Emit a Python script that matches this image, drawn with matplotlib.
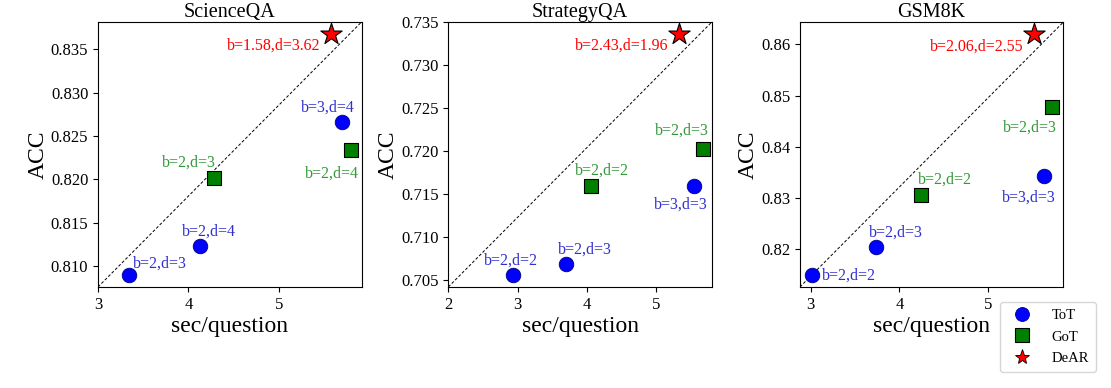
import matplotlib
matplotlib.use("Agg")
import matplotlib.pyplot as plt
from matplotlib.lines import Line2D

plt.rcParams['font.family'] = ['Liberation Serif', 'DejaVu Serif']

datasets = ["ScienceQA", "StrategyQA", "GSM8K"]

# ToT results: sec/question, accuracy, config label
tot_x = [[3.339, 4.125, 5.701], [2.934, 3.691, 5.546], [3.015, 3.738, 5.622]]
tot_y = [[0.8089, 0.8123, 0.8266], [0.7055, 0.7068, 0.7159], [0.8148, 0.8203, 0.8342]]
tot_lab = [["b=2,d=3", "b=2,d=4", "b=3,d=4"],
           ["b=2,d=2", "b=2,d=3", "b=3,d=3"],
           ["b=2,d=2", "b=2,d=3", "b=3,d=3"]]

# GoT results
got_x = [[4.284, 5.797], [4.060, 5.666], [4.247, 5.715]]
got_y = [[0.8201, 0.8234], [0.7159, 0.7202], [0.8305, 0.8477]]
got_lab = [["b=2,d=3", "b=2,d=4"],
           ["b=2,d=2", "b=2,d=3"],
           ["b=2,d=2", "b=2,d=3"]]

# DeAR results
dear_x = [5.572, 5.330, 5.513]
dear_y = [0.8368, 0.7336, 0.8620]
dear_lab = ["b=1.58,d=3.62", "b=2.43,d=1.96", "b=2.06,d=2.55"]

# axis ranges and ticks
xlims = [(3.0, 5.915), (2.0, 5.80), (2.88, 5.846)]
ylims = [(0.80757, 0.83816), (0.70414, 0.735), (0.81255, 0.86438)]
xticks = [[3, 4, 5], [2, 3, 4, 5], [3, 4, 5]]
yticks = [[0.810, 0.815, 0.820, 0.825, 0.830, 0.835],
          [0.705, 0.710, 0.715, 0.720, 0.725, 0.730, 0.735],
          [0.82, 0.83, 0.84, 0.85, 0.86]]
yfmt = ["%.3f", "%.3f", "%.2f"]

# label offsets (pixels) and horizontal alignment
tot_off = [[(31, 8), (9, 10), (-14, 11)],
           [(-2, 11), (19, 11), (-13, -23)],
           [(10, -4), (20, 11), (-15, -25)]]
tot_ha = [["center"] * 3, ["center"] * 3, ["left", "center", "center"]]
got_off = [[(-25, 12), (-19, -28)],
           [(11, 11), (-21, 14)],
           [(24, 12), (-22, -24)]]
dear_off = [(-57, -16), (-58, -16), (-57, -16)]

fig = plt.figure(figsize=(11.11, 3.88), dpi=100)
lefts = [0.0882, 0.4035, 0.7200]

for i in range(3):
    ax = fig.add_axes([lefts[i], 0.2603, 0.2372, 0.683])
    ax.plot([0, 1], [0, 1], transform=ax.transAxes, color='black',
            linestyle='--', linewidth=0.7, dashes=(3, 2))
    ax.scatter(tot_x[i], tot_y[i], s=110, color='blue', edgecolors='#000080',
               linewidths=0.6, zorder=3)
    ax.scatter(got_x[i], got_y[i], s=110, marker='s', color='green',
               edgecolors='black', linewidths=0.8, zorder=3)
    ax.scatter([dear_x[i]], [dear_y[i]], s=260, marker='*', color='red',
               edgecolors='black', linewidths=0.8, zorder=3)

    for j, lab in enumerate(tot_lab[i]):
        ax.annotate(lab, (tot_x[i][j], tot_y[i][j]), xytext=tot_off[i][j],
                    textcoords='offset pixels', ha=tot_ha[i][j], va='baseline',
                    fontsize=11.5, color='#3030d0')
    for j, lab in enumerate(got_lab[i]):
        ax.annotate(lab, (got_x[i][j], got_y[i][j]), xytext=got_off[i][j],
                    textcoords='offset pixels', ha='center', va='baseline',
                    fontsize=11.5, color='#33993a')
    ax.annotate(dear_lab[i], (dear_x[i], dear_y[i]), xytext=dear_off[i],
                textcoords='offset pixels', ha='center', va='baseline',
                fontsize=11.5, color='red')

    ax.set_xlim(*xlims[i])
    ax.set_ylim(*ylims[i])
    ax.set_xticks(xticks[i])
    ax.set_yticks(yticks[i])
    ax.set_yticklabels([yfmt[i] % v for v in yticks[i]])
    ax.tick_params(labelsize=12)
    ax.set_title(datasets[i], fontsize=14.5, pad=2)
    ax.set_xlabel("sec/question", fontsize=17, labelpad=2)
    ax.set_ylabel("ACC", fontsize=17, labelpad=1.5)

handles = [Line2D([], [], marker='o', linestyle='none', markersize=10,
                  markerfacecolor='blue', markeredgecolor='#000080', markeredgewidth=0.6),
           Line2D([], [], marker='s', linestyle='none', markersize=9.5,
                  markerfacecolor='green', markeredgecolor='black', markeredgewidth=0.8),
           Line2D([], [], marker='*', linestyle='none', markersize=11,
                  markerfacecolor='red', markeredgecolor='black', markeredgewidth=0.6)]
fig.legend(handles, ["ToT", "GoT", "DeAR"], loc='lower right',
           bbox_to_anchor=(0.9865, 0.041), fontsize=10.5, handletextpad=1.0,
           labelspacing=0.55, borderpad=0.5, borderaxespad=0)

fig.savefig("out.png", dpi=100)
